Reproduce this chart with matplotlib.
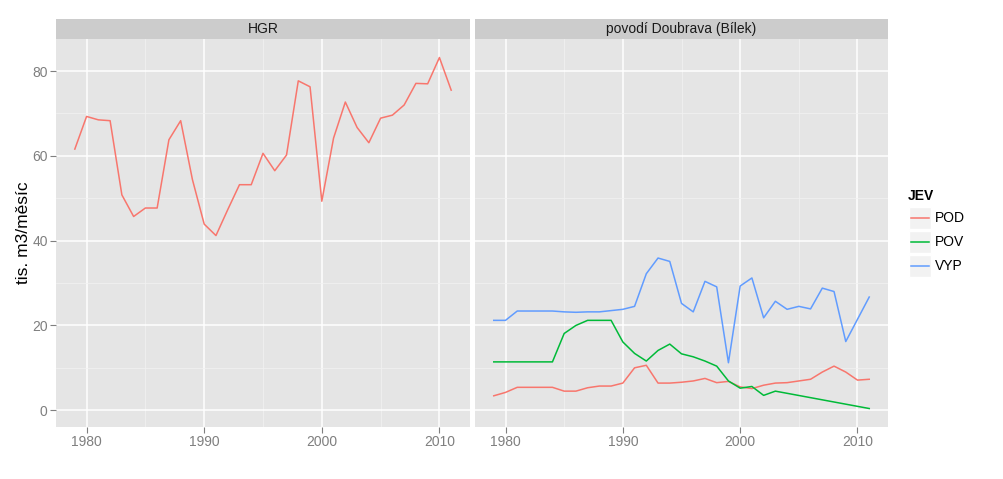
import numpy as np
import matplotlib
matplotlib.use('Agg')
import matplotlib.pyplot as plt
from matplotlib.patches import Rectangle
from matplotlib.lines import Line2D

plt.rcParams['font.family'] = ['Liberation Sans', 'DejaVu Sans']

# --- data ---
years_all = list(range(1979, 2012))

hgr_pod = [61.6, 69.3, 68.5, 68.3, 50.8, 45.7, 47.7, 47.7, 63.8, 68.3,
           54.4, 43.9, 41.2, 47.3, 53.2, 53.2, 60.6, 56.5, 60.2, 77.7,
           76.3, 49.3, 64.2, 72.7, 66.7, 63.1, 68.9, 69.6, 72.0, 77.1,
           77.0, 83.2, 75.5]

dou_pod = [3.4, 4.2, 5.4, 5.4, 5.4, 5.4, 4.5, 4.5, 5.3, 5.7,
           5.7, 6.4, 10.0, 10.6, 6.4, 6.4, 6.6, 6.9, 7.5, 6.5,
           6.8, 5.5, 5.1, 5.9, 6.4, 6.5, 6.9, 7.3, 9.0, 10.4,
           9.0, 7.1, 7.3]

pov_years = list(range(1979, 2004)) + [2011]
dou_pov = [11.4, 11.4, 11.4, 11.4, 11.4, 11.4, 18.1, 20.0, 21.2, 21.2,
           21.2, 16.1, 13.4, 11.6, 14.1, 15.6, 13.3, 12.6, 11.6, 10.4,
           6.9, 5.2, 5.6, 3.5, 4.5, 0.4]

vyp_years = list(range(1979, 2010)) + [2011]
dou_vyp = [21.2, 21.2, 23.4, 23.4, 23.4, 23.4, 23.2, 23.1, 23.2, 23.2,
           23.5, 23.8, 24.5, 32.2, 35.9, 35.1, 25.2, 23.2, 30.4, 29.1,
           11.2, 29.3, 31.2, 21.8, 25.7, 23.8, 24.5, 23.9, 28.8, 28.0,
           16.2, 26.7]

facets = ['HGR', 'povodí Doubrava (Bílek)']
series_names = ['POD', 'POV', 'VYP']
colors = {'POD': '#F8766D', 'POV': '#00BA38', 'VYP': '#619CFF'}

W, H = 1004, 479
fig = plt.figure(figsize=(W / 100, H / 100), dpi=100)
fig.patch.set_facecolor('white')

panel_bottom = (H - 427) / H
panel_h = (427 - 39.3) / H
strip_h = 20 / H
panels = [(56, 470), (475, 888)]

xlim = (1977.4, 2012.6)
ylim = (-3.96, 87.5)

axes = []
for i, (x0, x1) in enumerate(panels):
    ax = fig.add_axes([x0 / W, panel_bottom, (x1 - x0) / W, panel_h])
    ax.set_facecolor('#E5E5E5')
    ax.set_xlim(xlim)
    ax.set_ylim(ylim)
    for s in ax.spines.values():
        s.set_visible(False)
    ax.set_xticks([1980, 1990, 2000, 2010])
    ax.set_xticks([1985, 1995, 2005], minor=True)
    ax.set_yticks([0, 20, 40, 60, 80])
    ax.set_yticks([10, 30, 50, 70], minor=True)
    ax.grid(which='major', color='white', lw=1.1)
    ax.grid(which='minor', color='#F2F2F2', lw=0.5)
    ax.set_axisbelow(True)
    ax.tick_params(which='major', colors='#7F7F7F', length=4, width=0.8,
                   labelsize=10, pad=2)
    ax.tick_params(which='minor', length=0)
    if i > 0:
        ax.tick_params(axis='y', which='both', left=False, labelleft=False)
    # strip
    sax = fig.add_axes([x0 / W, panel_bottom + panel_h, (x1 - x0) / W, strip_h])
    sax.set_facecolor('#CCCCCC')
    sax.set_xticks([])
    sax.set_yticks([])
    for s in sax.spines.values():
        s.set_visible(False)
    sax.text(0.5, 0.5, facets[i], ha='center', va='center', fontsize=10,
             color='#1A1A1A', transform=sax.transAxes)
    axes.append(ax)

axes[0].set_ylabel('tis. m3/měsíc', fontsize=12.5, labelpad=1)

axes[0].plot(years_all, hgr_pod, color=colors['POD'], lw=1.1)
axes[1].plot(years_all, dou_pod, color=colors['POD'], lw=1.1)
axes[1].plot(pov_years, dou_pov, color=colors['POV'], lw=1.1)
axes[1].plot(vyp_years, dou_vyp, color=colors['VYP'], lw=1.1)

# legend, drawn manually in pixel coordinates
lax = fig.add_axes([0, 0, 1, 1])
lax.set_xlim(0, W)
lax.set_ylim(H, 0)
lax.axis('off')
lax.text(908, 196, 'JEV', fontsize=10, fontweight='bold', va='center', ha='left')
for k, name in enumerate(series_names):
    yc = 218 + k * 24
    lax.add_patch(Rectangle((909, yc - 11), 22, 22, facecolor='#F2F2F2',
                            edgecolor='white', lw=1))
    lax.add_line(Line2D([911, 929], [yc, yc], color=colors[name], lw=1.1))
    lax.text(935, yc, name, fontsize=10, va='center', ha='left')

fig.savefig('out.png', dpi=100)
